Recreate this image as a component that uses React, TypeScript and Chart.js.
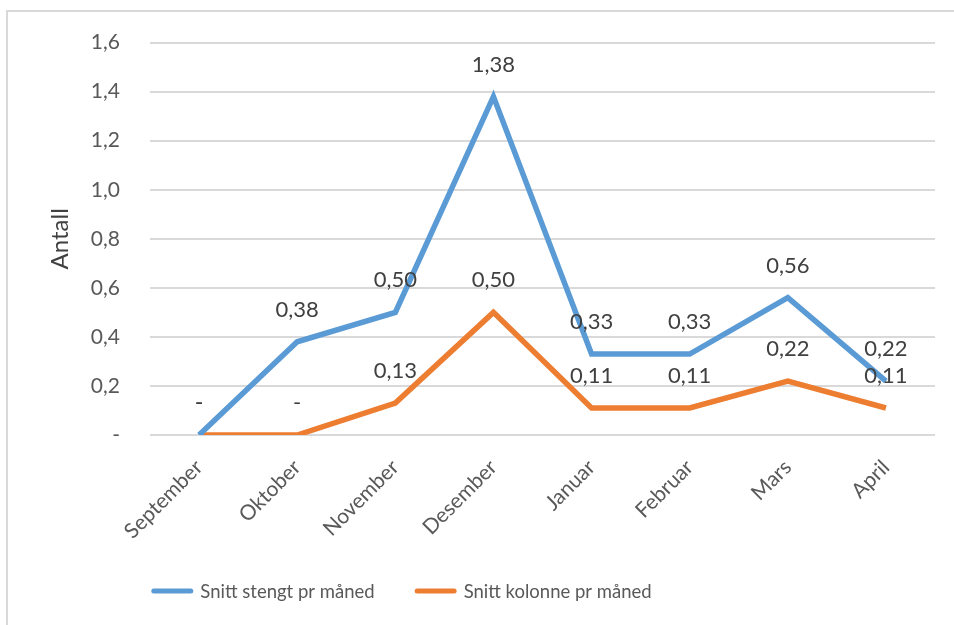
import React, { useEffect, useRef } from "react";
import { Chart, registerables } from "chart.js";

Chart.register(...registerables);

const months = ["September", "Oktober", "November", "Desember", "Januar", "Februar", "Mars", "April"];
const stengtValues = [0, 0.38, 0.5, 1.38, 0.33, 0.33, 0.56, 0.22];
const kolonneValues = [0, 0, 0.13, 0.5, 0.11, 0.11, 0.22, 0.11];
const seriesLabels = ["Snitt stengt pr måned", "Snitt kolonne pr måned"];
const seriesColors = ["#5B9BD5", "#ED7D31"];
const yAxisTitle = "Antall";
const yMin = 0;
const yMax = 1.6;
const yStep = 0.2;

const FONT = "Lato";

const fmtTick = (v: number) => (Math.abs(v) < 1e-9 ? "-" : v.toFixed(1).replace(".", ","));
const fmtLabel = (v: number) => (Math.abs(v) < 1e-9 ? "-" : v.toFixed(2).replace(".", ","));

const borderPlugin = {
  id: "outerBorder",
  beforeDraw(chart: any) {
    const ctx = chart.ctx;
    ctx.save();
    ctx.fillStyle = "#ffffff";
    ctx.fillRect(0, 0, chart.width, chart.height);
    ctx.strokeStyle = "#d9d9d9";
    ctx.lineWidth = 2;
    ctx.strokeRect(7, 11, chart.width + 20, chart.height + 20);
    ctx.restore();
  },
};

const dataLabelPlugin = {
  id: "dataLabels",
  afterDatasetsDraw(chart: any) {
    const ctx = chart.ctx;
    ctx.save();
    ctx.font = `22px ${FONT}`;
    ctx.fillStyle = "#404040";
    ctx.textAlign = "center";
    ctx.textBaseline = "middle";
    chart.data.datasets.forEach((ds: any, i: number) => {
      const meta = chart.getDatasetMeta(i);
      meta.data.forEach((pt: any, j: number) => {
        ctx.fillText(fmtLabel(ds.data[j]), pt.x, pt.y - 32);
      });
    });
    ctx.restore();
  },
};

const legendPlugin = {
  id: "customLegend",
  afterDraw(chart: any) {
    const ctx = chart.ctx;
    ctx.save();
    ctx.font = `18.5px ${FONT}`;
    const lineW = 42;
    const gapText = 7;
    const gapItem = 40;
    const ds = chart.data.datasets;
    const widths = ds.map((d: any) => lineW + gapText + ctx.measureText(d.label).width);
    const total = widths.reduce((a: number, b: number) => a + b, 0) + gapItem * (ds.length - 1);
    let x = 401.5 - total / 2;
    const y = 591;
    ds.forEach((d: any, i: number) => {
      ctx.strokeStyle = d.borderColor;
      ctx.lineWidth = 5;
      ctx.lineCap = "round";
      ctx.beginPath();
      ctx.moveTo(x + 2.5, y);
      ctx.lineTo(x + lineW - 2.5, y);
      ctx.stroke();
      ctx.fillStyle = "#595959";
      ctx.textAlign = "left";
      ctx.textBaseline = "middle";
      ctx.fillText(d.label, x + lineW + gapText, y + 1);
      x += widths[i] + gapItem;
    });
    ctx.restore();
  },
};

export default function App() {
  const ref = useRef<HTMLCanvasElement | null>(null);

  useEffect(() => {
    document.body.style.margin = "0";
    if (!ref.current) return;
    const chart = new Chart(ref.current, {
      type: "line",
      data: {
        labels: months,
        datasets: [
          {
            label: seriesLabels[0],
            data: stengtValues,
            borderColor: seriesColors[0],
            backgroundColor: seriesColors[0],
            borderWidth: 5.5,
            pointRadius: 0,
            tension: 0,
            fill: false,
          },
          {
            label: seriesLabels[1],
            data: kolonneValues,
            borderColor: seriesColors[1],
            backgroundColor: seriesColors[1],
            borderWidth: 5.5,
            pointRadius: 0,
            tension: 0,
            fill: false,
          },
        ],
      },
      options: {
        responsive: false,
        animation: false,
        devicePixelRatio: 1,
        layout: { padding: { left: 0, right: 19, top: 41, bottom: 0 } },
        plugins: {
          legend: { display: false },
          tooltip: { enabled: false },
        },
        scales: {
          x: {
            offset: true,
            grid: { display: false, drawTicks: false },
            border: { display: false },
            ticks: {
              autoSkip: false,
              maxRotation: 45,
              minRotation: 45,
              padding: 20,
              color: "#595959",
              font: { family: FONT, size: 21 },
            },
            afterFit: (s: any) => {
              s.height = 190;
            },
          },
          y: {
            min: yMin,
            max: yMax,
            grid: { color: "#d9d9d9", lineWidth: 2, drawTicks: false },
            border: { display: false },
            ticks: {
              stepSize: yStep,
              padding: 30,
              color: "#595959",
              font: { family: FONT, size: 21 },
              callback: (v: any) => fmtTick(Number(v)),
            },
            title: {
              display: true,
              text: yAxisTitle,
              color: "#404040",
              font: { family: FONT, size: 24 },
              padding: { top: 46, bottom: 0 },
            },
            afterFit: (s: any) => {
              s.width = 150;
            },
          },
        },
      },
      plugins: [borderPlugin, dataLabelPlugin, legendPlugin],
    });
    return () => chart.destroy();
  }, []);

  return <canvas ref={ref} width={954} height={625} style={{ display: "block" }} />;
}
